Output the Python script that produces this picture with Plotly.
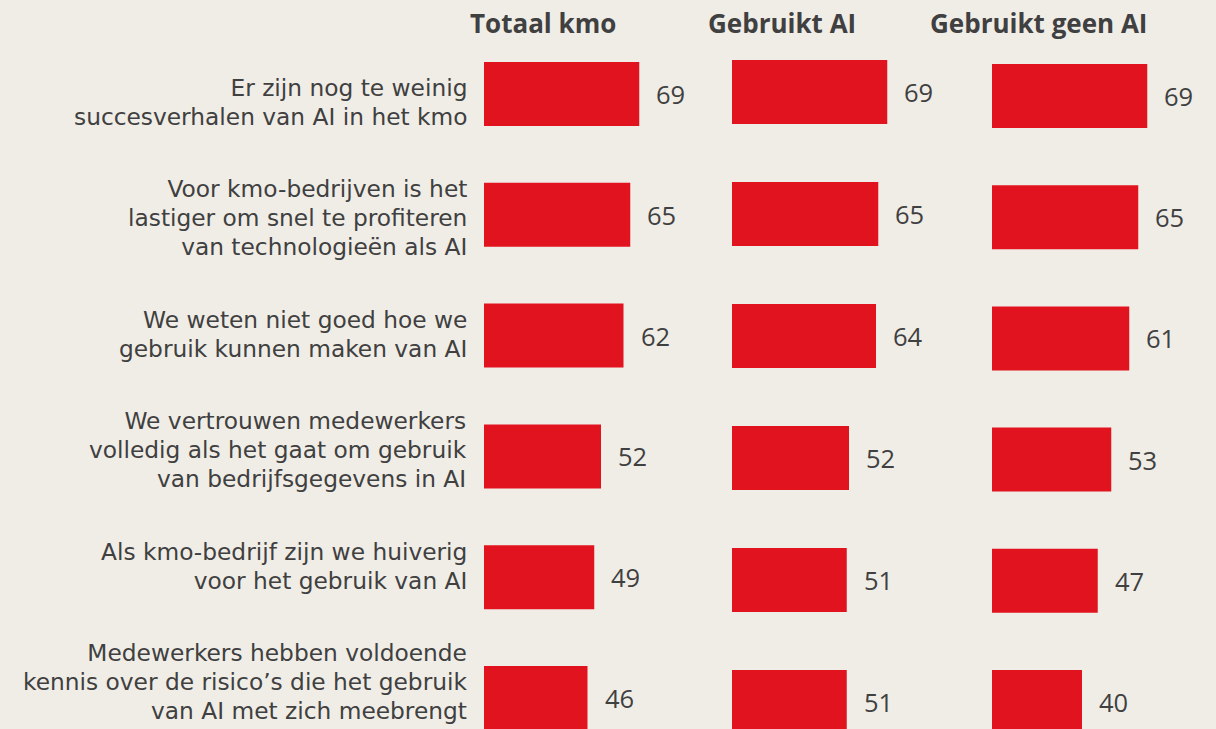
import plotly.graph_objects as go

categories = [
    "Er zijn nog te weinig<br>succesverhalen van AI in het kmo",
    "Voor kmo-bedrijven is het<br>lastiger om snel te profiteren<br>van technologieën als AI",
    "We weten niet goed hoe we<br>gebruik kunnen maken van AI",
    "We vertrouwen medewerkers<br>volledig als het gaat om gebruik<br>van bedrijfsgegevens in AI",
    "Als kmo-bedrijf zijn we huiverig<br>voor het gebruik van AI",
    "Medewerkers hebben voldoende<br>kennis over de risico’s die het gebruik<br>van AI met zich meebrengt",
]
panel_titles = ["Totaal kmo", "Gebruikt AI", "Gebruikt geen AI"]
totaal_kmo = [69, 65, 62, 52, 49, 46]
gebruikt_ai = [69, 65, 64, 52, 51, 51]
gebruikt_geen_ai = [69, 65, 61, 53, 47, 40]
series = [totaal_kmo, gebruikt_ai, gebruikt_geen_ai]

W, H = 1216, 729
BG = "#F0EDE7"
RED = "#E1131E"
TXT = "#404040"
FONT = "Open Sans"
LABEL_FONT = "DejaVu Sans"

TOP = 34                     # top margin (px)
px_per_unit = 2.25
panel_left_px = [484, 732, 992]
panel_w_px = 220
title_x_px = [543, 782, 1038]
# first-row centre and row pitch per panel (px)
row_c0 = [94, 92, 96]
row_pitch = [120.8, 122, 121.2]
bar_h_px = 64
LABEL_GLYPH = 23.3           # glyph size of category labels
LABEL_PITCH_FONT = 22.2      # base size -> line pitch 1.3 * 22.2 ≈ 28.9 px

fig = go.Figure()
positions = list(range(len(categories)))

for i, vals in enumerate(series):
    n = "" if i == 0 else str(i + 1)
    c0, s = row_c0[i], row_pitch[i]
    fig.add_trace(go.Bar(
        x=vals, y=positions, orientation="h",
        marker=dict(color=RED, line=dict(width=0)),
        width=bar_h_px / s, xaxis="x" + n, yaxis="y" + n,
        hoverinfo="x", showlegend=False,
    ))
    d0 = panel_left_px[i] / W
    d1 = (panel_left_px[i] + panel_w_px) / W
    fig.layout["xaxis" + n] = dict(
        domain=[d0, d1], range=[0, panel_w_px / px_per_unit],
        showgrid=False, zeroline=False, showticklabels=False,
        showline=False, anchor="y" + n, fixedrange=True,
    )
    fig.layout["yaxis" + n] = dict(
        range=[(H - c0) / s, (TOP - c0) / s], showgrid=False, zeroline=False,
        showticklabels=False, showline=False, anchor="x" + n,
        domain=[0, 1], fixedrange=True,
    )
    for k, v in enumerate(vals):
        fig.add_annotation(
            x=v, y=k, xref="x" + n, yref="y" + n, text=str(v),
            xanchor="left", yanchor="middle", xshift=15, yshift=0, showarrow=False,
            font=dict(family=FONT, size=25.5, color=TXT),
        )
    fig.add_annotation(
        x=title_x_px[i] / W, y=1, xref="paper", yref="paper",
        text="<b>" + panel_titles[i] + "</b>", xanchor="center", yanchor="middle",
        yshift=11, showarrow=False,
        font=dict(family=FONT, size=26, color=TXT),
    )

for k, c in enumerate(categories):
    lines = c.split("<br>")
    text = "<br>".join(
        f'<span style="font-size:{LABEL_GLYPH}px">{ln}</span>' for ln in lines
    )
    centre_down = 7.5 - 4.8 * k
    fig.add_annotation(
        x=469 / W, y=k, xref="paper", yref="y", text=text,
        xanchor="right", yanchor="middle", align="right", showarrow=False,
        yshift=-centre_down,
        font=dict(family=LABEL_FONT, size=LABEL_PITCH_FONT, color=TXT),
    )

fig.update_layout(
    width=W, height=H,
    margin=dict(l=0, r=0, t=TOP, b=0),
    paper_bgcolor=BG, plot_bgcolor=BG,
)

fig.write_html(
    "out.html",
    config={"displayModeBar": False},
    post_script="document.body.style.margin='0';",
)
